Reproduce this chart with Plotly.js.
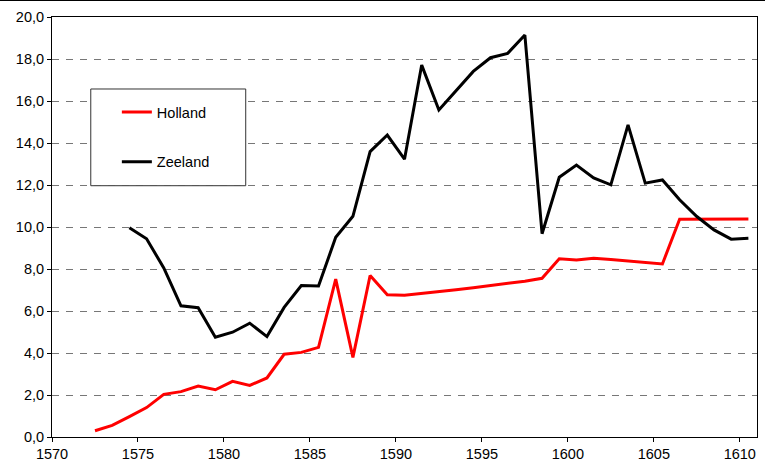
<!DOCTYPE html>
<html>
<head>
<meta charset="utf-8">
<script src="https://cdn.plot.ly/plotly-3.0.1.min.js"></script>
<style>
  html, body { margin: 0; padding: 0; background: #fff; }
  #wrap { position: relative; width: 765px; height: 466px; }
  #topline { position: absolute; left: 0; top: 0; width: 765px; height: 1px; background: #000; z-index: 5; }
  #chart { position: absolute; left: 0; top: 0; width: 765px; height: 466px; }
</style>
</head>
<body>
<div id="wrap"><div id="topline"></div><div id="chart"></div></div>
<script>
// Data (years; points are centred within each year)
const hollandYears = [1572,1573,1574,1575,1576,1577,1578,1579,1580,1581,1582,1583,1584,1585,1586,1587,1588,1589,1590,1591,1592,1593,1594,1595,1596,1597,1598,1599,1600,1601,1602,1603,1604,1605,1606,1607,1608,1609,1610];
const hollandValues = [0.30,0.55,0.97,1.40,2.03,2.16,2.43,2.25,2.65,2.46,2.81,3.94,4.03,4.27,7.52,3.79,7.69,6.77,6.75,6.83,6.92,7.01,7.11,7.21,7.31,7.42,7.56,8.49,8.43,8.51,8.45,8.38,8.31,8.24,10.37,10.37,10.38,10.40,10.38];

const zeelandYears = [1574,1575,1576,1577,1578,1579,1580,1581,1582,1583,1584,1585,1586,1587,1588,1589,1590,1591,1592,1593,1594,1595,1596,1597,1598,1599,1600,1601,1602,1603,1604,1605,1606,1607,1608,1609,1610];
const zeelandValues = [9.96,9.44,8.05,6.25,6.16,4.75,4.99,5.42,4.78,6.17,7.21,7.19,9.51,10.51,13.59,14.38,13.23,17.71,15.57,16.49,17.41,18.06,18.27,19.14,9.68,12.37,12.95,12.34,12.01,14.86,12.09,12.24,11.30,10.50,9.86,9.42,9.46];

const xTickVals = [1570,1575,1580,1585,1590,1595,1600,1605,1610];
const yTickVals = [0,2,4,6,8,10,12,14,16,18,20];

const mid = y => y + 0.5;

const traces = [
  { name: 'Holland', legendgroup: 'h', x: hollandYears.map(mid), y: hollandValues, type: 'scatter', mode: 'lines',
    line: { color: '#ff0000', width: 3 } },
  { name: 'Zeeland', legendgroup: 'z', x: zeelandYears.map(mid), y: zeelandValues, type: 'scatter', mode: 'lines',
    line: { color: '#000000', width: 3 } }
];

const font = { family: 'Liberation Sans, Arial, sans-serif', size: 14.5, color: '#000' };

const layout = {
  width: 765, height: 466,
  margin: { l: 52, r: 8, t: 17, b: 29, pad: 0 },
  paper_bgcolor: '#fff', plot_bgcolor: '#fff',
  separators: ',.',
  font: font,
  showlegend: true,
  legend: {
    x: 0.092, y: 0.812, xanchor: 'left', yanchor: 'top',
    bgcolor: 'rgba(0,0,0,0)', borderwidth: 0,
    font: font, traceorder: 'grouped', tracegroupgap: 28
  },
  xaxis: {
    range: [1570, 1611], tickvals: xTickVals, tickformat: 'd',
    ticks: 'outside', ticklen: 4, tickcolor: '#000', tickwidth: 1,
    showline: true, linecolor: '#000', linewidth: 1, mirror: true,
    showgrid: false, zeroline: false, fixedrange: true
  },
  yaxis: {
    range: [0, 20], tickvals: yTickVals, tickformat: '.1f',
    ticks: 'outside', ticklen: 4, tickcolor: '#000', tickwidth: 1,
    showline: true, linecolor: '#000', linewidth: 1, mirror: true,
    showgrid: true, gridcolor: '#777', gridwidth: 1, griddash: '7px,7px',
    zeroline: false, fixedrange: true
  },
  shapes: [
    { type: 'rect', xref: 'paper', yref: 'paper', x0: 0.055, x1: 0.2748, y0: 0.5983, y1: 0.8286,
      line: { color: '#333', width: 1 }, fillcolor: '#fff', layer: 'above' }
  ]
};

Plotly.newPlot('chart', traces, layout, { displayModeBar: false, staticPlot: true });
</script>
</body>
</html>
